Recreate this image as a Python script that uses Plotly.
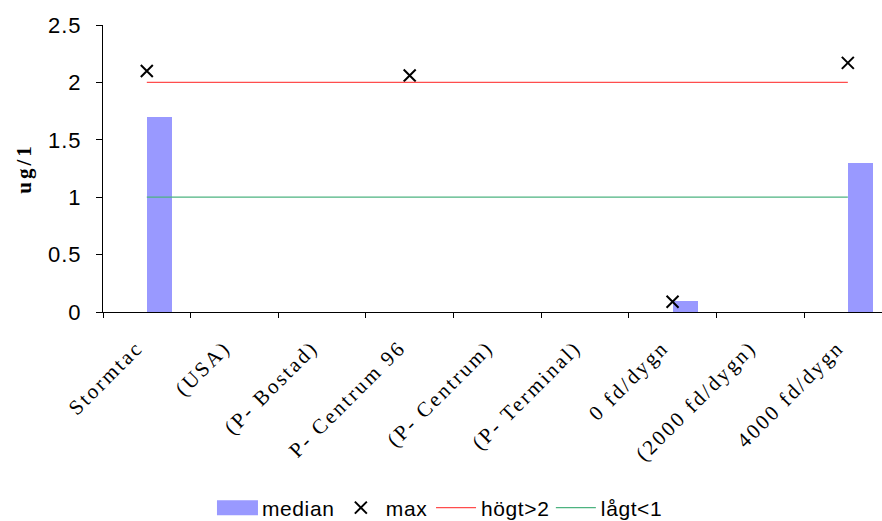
import plotly.graph_objects as go

categories = ["Stormtac", "(USA)", "(P- Bostad)", "P- Centrum 96", "(P- Centrum)",
              "(P- Terminal)", "0 fd/dygn", "(2000 fd/dygn)", "4000 fd/dygn"]
median = [1.7, None, None, None, None, None, 0.1, None, 1.3]
max_vals = [2.1, None, None, 2.06, None, None, 0.09, None, 2.17]
hogt = [2] * 9
lagt = [1] * 9

fig = go.Figure()
fig.add_trace(go.Bar(x=categories, y=median, name="median", marker_color="#9999FF",
                     offset=0, width=0.29, marker_line_width=0))
fig.add_trace(go.Scatter(x=categories, y=max_vals, name="max", mode="markers",
                         marker=dict(symbol="x-thin-open", size=12, color="black",
                                     line=dict(width=2, color="black"))))
fig.add_trace(go.Scatter(x=categories, y=hogt, name="högt>2", mode="lines",
                         line=dict(color="#FF4D4D", width=1.2)))
fig.add_trace(go.Scatter(x=categories, y=lagt, name="lågt<1", mode="lines",
                         line=dict(color="#4DB380", width=1.2)))

fig.update_layout(
    width=882, height=521,
    margin=dict(l=103, r=0, t=25, b=209, autoexpand=False),
    plot_bgcolor="white", paper_bgcolor="white",
    showlegend=True,
    legend=dict(orientation="h", x=0.43, xanchor="center",
                yref="container", y=0.025, yanchor="middle",
                font=dict(family="Liberation Sans, Arial", size=21, color="black"),
                itemwidth=40),
    xaxis=dict(type="category", range=[-0.5, 8.39], tickson="boundaries",
               showline=True, linecolor="black", linewidth=1,
               ticks="outside", ticklen=5, tickcolor="black",
               tickangle=-45, showgrid=False, automargin=False,
               ticklabelstandoff=14, ticklabelshift=-10,
               tickfont=dict(family="Liberation Serif, Times New Roman", size=21, color="black")),
    yaxis=dict(range=[0, 2.5], dtick=0.5, showline=True, linecolor="black", linewidth=1,
               ticks="outside", ticklen=6, tickcolor="black", showgrid=False, zeroline=False,
               ticklabelstandoff=10, automargin=False,
               tickfont=dict(family="Liberation Sans, Arial", size=22, color="black"),
               title=dict(text="<b>ug/1</b>", standoff=13,
                          font=dict(family="Liberation Serif, Times New Roman", size=21, color="black"))),
    bargap=0,
)

post = """
var gd = document.getElementById('{plot_id}');
function ls(){
  gd.querySelectorAll('.xtick text').forEach(function(t){ t.style.letterSpacing='2.4px'; });
  gd.querySelectorAll('.ytick text').forEach(function(t){ t.style.letterSpacing='1px'; });
  gd.querySelectorAll('.ytitle').forEach(function(t){ t.style.letterSpacing='3px'; });
  gd.querySelectorAll('.legendtext').forEach(function(t){ t.style.letterSpacing='0.6px'; });
  var tr = gd.querySelectorAll('.legend .traces');
  if (tr.length) {
    tr[0].querySelectorAll('.legendpoints path').forEach(function(p){
      p.setAttribute('d', 'M-20,-7.5h41v15h-41z');
    });
  }
}
ls();
try { gd.on('plotly_afterplot', ls); } catch(e) {}
[0, 5, 20, 50, 100, 300].forEach(function(ms){ setTimeout(ls, ms); });
"""

fig.write_html("out.html", post_script=post)
